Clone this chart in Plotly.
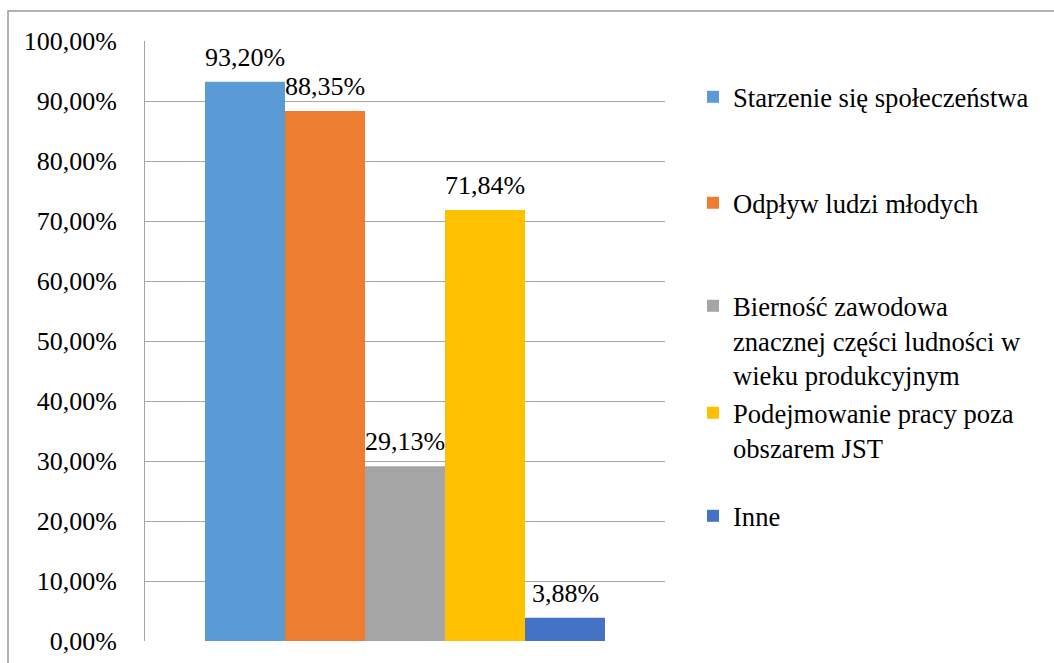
import plotly.graph_objects as go

# series (one bar per cause)
series_names = [
    "Starzenie się społeczeństwa",
    "Odpływ ludzi młodych",
    "Bierność zawodowa<br>znacznej części ludności w<br>wieku produkcyjnym",
    "Podejmowanie pracy poza<br>obszarem JST",
    "Inne",
]
series_values = [0.9320, 0.8835, 0.2913, 0.7184, 0.0388]
series_colors = ["#5B9BD5", "#ED7D31", "#A5A5A5", "#FFC000", "#4472C4"]

y_ticks = [i / 10 for i in range(11)]

FONT = "Liberation Serif"
W, H = 1054, 663
# legend first-line centres (px from top) for each entry
legend_centres = [99, 205, 308, 415, 518]

fig = go.Figure()

for i, (name, val, col) in enumerate(zip(series_names, series_values, series_colors)):
    leg = "legend" if i == 0 else f"legend{i + 1}"
    fig.add_trace(
        go.Bar(
            x=[i],
            y=[val],
            name=name,
            marker=dict(color=col, line=dict(width=0)),
            width=1,
            legend=leg,
            hovertemplate="%{y:.2%}<extra></extra>",
        )
    )
    fig.add_annotation(
        x=i,
        y=val,
        text=f"{val:.2%}".replace(".", ","),
        showarrow=False,
        yanchor="bottom",
        yshift=8,
        font=dict(family=FONT, size=26, color="#000000"),
    )

legends = {}
for i, cy in enumerate(legend_centres):
    key = "legend" if i == 0 else f"legend{i + 1}"
    legends[key] = dict(
        xref="container",
        yref="container",
        x=693 / W,
        y=1 - (cy - 26) / H,
        xanchor="left",
        yanchor="top",
        valign="top",
        bgcolor="rgba(0,0,0,0)",
        font=dict(family=FONT, size=26.6, color="#000000"),
        itemclick=False,
        itemdoubleclick=False,
    )

fig.update_layout(
    width=W,
    height=H,
    autosize=False,
    barmode="overlay",
    separators=", ",
    paper_bgcolor="white",
    plot_bgcolor="white",
    margin=dict(l=145, r=389, t=41, b=22, autoexpand=False),
    font=dict(family=FONT, size=26, color="#000000"),
    showlegend=True,
    xaxis=dict(
        range=[-1.25, 5.25],
        showticklabels=False,
        showgrid=False,
        zeroline=False,
        showline=False,
        fixedrange=True,
    ),
    yaxis=dict(
        range=[0, 1],
        tickvals=y_ticks,
        tickformat=".2%",
        showgrid=True,
        gridcolor="#A6A6A6",
        gridwidth=1,
        zeroline=False,
        showline=True,
        linecolor="#A6A6A6",
        linewidth=1,
        ticklabelstandoff=22,
        tickfont=dict(family=FONT, size=26, color="#000000"),
        fixedrange=True,
    ),
    **legends,
)

# outer chart border (cropped at right and bottom in the original)
fig.add_shape(
    type="rect",
    xref="paper",
    yref="paper",
    x0=(8 - 145) / 520,
    x1=(1070 - 145) / 520,
    y0=-(680 - 641) / 600,
    y1=1 + (41 - 11) / 600,
    line=dict(color="#999999", width=1.5),
    layer="below",
)

# page exactly the size of the figure: no body margin, no overflow
page_js = (
    "document.documentElement.style.overflow='hidden';"
    "document.body.style.margin='0';"
    "document.body.style.overflow='hidden';"
    "document.body.style.height='663px';"
)
fig.write_html(
    "out.html",
    config={"displayModeBar": False, "responsive": False},
    post_script=page_js,
)
